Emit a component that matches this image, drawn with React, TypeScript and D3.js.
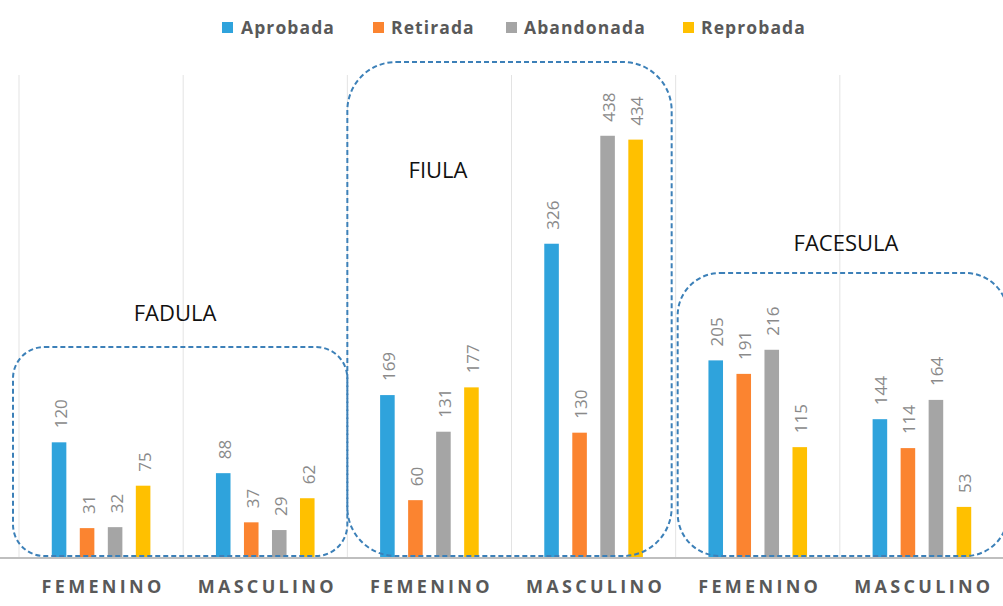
import React from "react";
import * as d3 from "d3";

const categories = ["FEMENINO", "MASCULINO", "FEMENINO", "MASCULINO", "FEMENINO", "MASCULINO"];
const seriesNames = ["Aprobada", "Retirada", "Abandonada", "Reprobada"];
const seriesColors = ["#2FA3DC", "#FB8430", "#A5A5A5", "#FFC000"];
const aprobada = [120, 88, 169, 326, 205, 144];
const retirada = [31, 37, 60, 130, 191, 114];
const abandonada = [32, 29, 131, 438, 216, 164];
const reprobada = [75, 62, 177, 434, 115, 53];
const seriesValues = [aprobada, retirada, abandonada, reprobada];
const groups = ["FADULA", "FIULA", "FACESULA"];

const W = 1003;
const H = 606;

export default function App() {
  const x = d3.scaleBand<number>().domain(d3.range(categories.length)).range([19, 1004]).padding(0);
  const inner = d3
    .scaleBand<number>()
    .domain(d3.range(seriesNames.length))
    .range([0, x.bandwidth()])
    .paddingInner(0.48)
    .paddingOuter(1.17);
  const y = d3.scaleLinear().domain([0, 500]).range([558, 76]);

  // annotation boxes (group outlines)
  const boxes = [
    { x0: x(0)! - 6, x1: x(2)!, top: 347, bottom: 556, label: groups[0], lx: 175, ly: 321 },
    { x0: x(2)!, x1: x(4)! - 4, top: 62, bottom: 556, label: groups[1], lx: 438, ly: 178 },
    { x0: x(4)! + 2, x1: x(5)! + x.bandwidth() + 4, top: 273, bottom: 556, label: groups[2], lx: 846, ly: 251 },
  ];

  const legendItems = [
    { sx: 222, tx: 241 },
    { sx: 373, tx: 391 },
    { sx: 506, tx: 524 },
    { sx: 683, tx: 701 },
  ];

  return (
    <svg
      width={W}
      height={H}
      style={{ position: "absolute", left: 0, top: 0, background: "#fff" }}
      fontFamily="'Open Sans', sans-serif"
    >
      {/* vertical dividers */}
      {d3.range(categories.length + 1).map((i) => {
        const xx = i < categories.length ? x(i)! : x(categories.length - 1)! + x.bandwidth();
        return <line key={i} x1={xx} x2={xx} y1={75} y2={558} stroke="#E3E3E3" strokeWidth={1} />;
      })}

      {/* bars */}
      {categories.map((c, ci) =>
        seriesValues.map((vals, si) => {
          const bx = x(ci)! + inner(si)!;
          const v = vals[ci];
          return (
            <g key={`${ci}-${si}`}>
              <rect x={bx} y={y(v)} width={inner.bandwidth()} height={y(0) - y(v)} fill={seriesColors[si]} />
              <text
                transform={`translate(${bx + inner.bandwidth() / 2 + 1},${y(v) - 14}) rotate(-90)`}
                dominantBaseline="central"
                textAnchor="start"
                fontSize={17}
                fill="#8A8A8A"
              >
                {v}
              </text>
            </g>
          );
        })
      )}

      {/* axis line */}
      <line x1={0} x2={W} y1={558} y2={558} stroke="#BFBFBF" strokeWidth={2} />

      {/* category labels */}
      {categories.map((c, ci) => (
        <text
          key={ci}
          x={x(ci)! + x.bandwidth() / 2 + 2}
          y={593}
          textAnchor="middle"
          fontSize={18}
          fontWeight="bold"
          letterSpacing={3.3}
          fill="#595959"
        >
          {c}
        </text>
      ))}

      {/* group boxes */}
      {boxes.map((b, i) => {
        const w = b.x1 - b.x0;
        const h = b.bottom - b.top;
        const r = 0.15 * Math.min(w, h);
        return (
          <g key={i}>
            <rect
              x={b.x0}
              y={b.top}
              width={w}
              height={h}
              rx={r}
              ry={r}
              fill="none"
              stroke="#3C80B8"
              strokeWidth={2}
              strokeDasharray="5 3"
            />
            <text x={b.lx} y={b.ly} textAnchor="middle" fontSize={22} fill="#111">
              {b.label}
            </text>
          </g>
        );
      })}

      {/* legend */}
      {seriesNames.map((s, i) => (
        <g key={s}>
          <rect x={legendItems[i].sx} y={22} width={11} height={11} fill={seriesColors[i]} />
          <text x={legendItems[i].tx} y={34} fontSize={17.5} fontWeight="bold" letterSpacing={1.1} fill="#595959">
            {s}
          </text>
        </g>
      ))}
    </svg>
  );
}
